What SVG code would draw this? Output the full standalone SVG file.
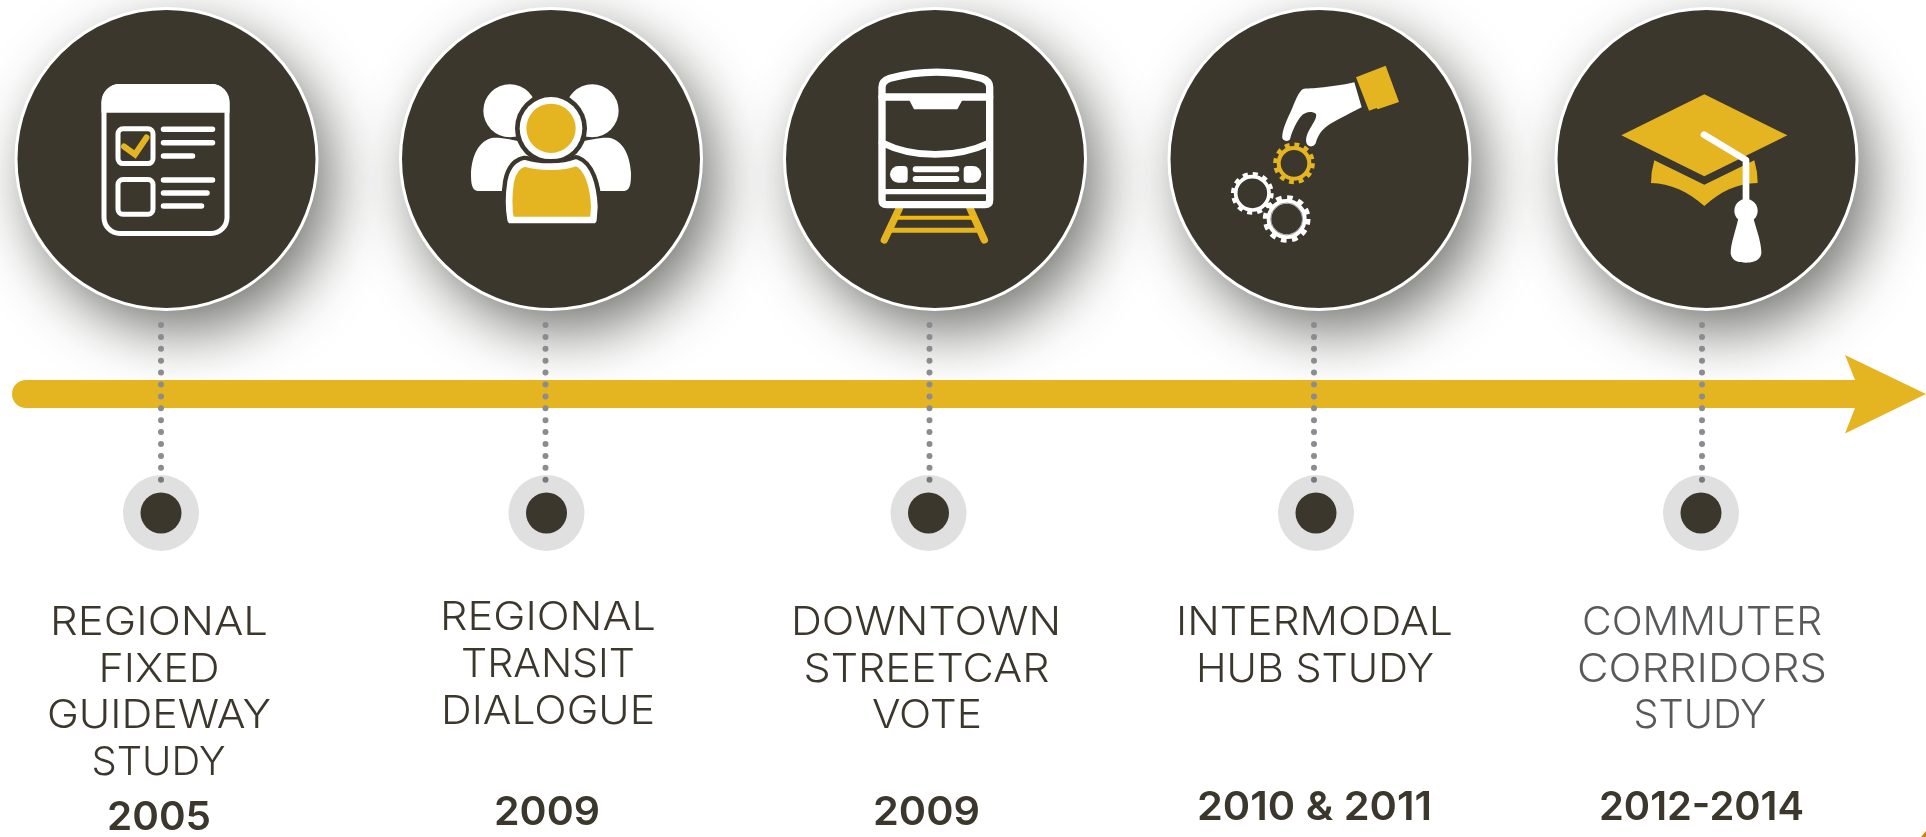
<svg xmlns="http://www.w3.org/2000/svg" width="1926" height="837" viewBox="0 0 1926 837">
<style>
text{font-family:"Inter","Open Sans","Liberation Sans",sans-serif;text-anchor:middle}
.t{font-size:39.5px;font-weight:300;fill:#3b372c}
.g{fill:#58595b}
.y{font-size:40px;font-weight:600;fill:#3b372c}
.disc{fill:#3b372c;stroke:#fff;stroke-width:3}
.shadow{fill:#1a1a14;fill-opacity:.62;filter:url(#sh)}
.w{fill:#fff}.au{fill:#e5b521}
.ws{fill:none;stroke:#fff;stroke-linecap:round;stroke-linejoin:round}
.as{fill:none;stroke:#e5b521;stroke-linecap:round}
.dot{fill:none;stroke:#8b8b90;stroke-width:6;stroke-linecap:round;stroke-dasharray:0 11.9}
.ring{fill:#e0e0e0}.core{fill:#3b372c}
.teeth{fill:none;stroke-dasharray:5 5}
</style>
<defs>
<filter id="sh" x="-50%" y="-50%" width="200%" height="200%" color-interpolation-filters="sRGB">
<feGaussianBlur stdDeviation="30"/>
</filter>
</defs>
<rect width="1926" height="837" fill="#fff"/>

<g id="node-2005">
<circle class="shadow" cx="181" cy="181" r="150"/>
<circle class="disc" cx="166.500" cy="159" r="150.500"/>
<rect class="ws" x="104" y="86.500" width="123" height="147" rx="16" stroke-width="5"/>
<path class="w" d="M101.500 112.700V102A18 18 0 0 1 119.500 84H211.500A18 18 0 0 1 229.500 102V112.700Z"/>
<rect class="ws" x="118" y="128.800" width="35" height="34.800" rx="5" stroke-width="5"/>
<rect class="ws" x="118" y="179.500" width="35" height="34.800" rx="5" stroke-width="5"/>
<path class="ws" stroke-width="5.500" d="M163.500 129.300H212.500M163.500 142.700H212.500M163.500 156H192.500M163.500 180H212.500M163.500 193H207M163.500 206H201.500"/>
<path class="as" stroke-width="6" stroke-linecap="butt" d="M124 146.500L135 154.500L146.500 137.500"/>
</g>

<g id="node-dialogue">
<circle class="shadow" cx="565.500" cy="181" r="150"/>
<circle class="disc" cx="551" cy="159" r="150.500"/>
<g transform="translate(390 0) scale(.33333)">
<circle class="w" cx="359.500" cy="332" r="79.500"/>
<circle class="w" cx="606.500" cy="332" r="79.500"/>
<path class="w" d="M262 573C245 570 243 550 243 520C245 470 265 420 310 413C340 412 370 420 420 430L430 573Z"/>
<path class="w" d="M704 573C721 570 723 550 723 520C721 470 701 420 656 413C626 412 596 420 546 430L536 573Z"/>
<circle fill="#3b372c" cx="483" cy="385" r="108"/>
<circle class="w" cx="483" cy="385" r="94"/>
<circle class="au" cx="483" cy="385" r="74"/>
<path fill="#3b372c" stroke="#3b372c" stroke-width="46" stroke-linejoin="round" d="M362 660C355 620 355 590 362 545C368 515 382 495 405 490C440 502 520 505 558 488C592 500 610 555 613 620L610 660Z"/>
<path class="au" stroke="#fff" stroke-width="20" stroke-linejoin="round" d="M362 660C355 620 355 590 362 545C368 515 382 495 405 490C440 502 520 505 558 488C592 500 610 555 613 620L610 660Z"/>
</g>
</g>

<g id="node-streetcar">
<circle class="shadow" cx="949.500" cy="181" r="150"/>
<circle class="disc" cx="935" cy="159" r="150.500"/>
<g transform="translate(780 0) scale(.33333)">
<path class="as" stroke-width="22" d="M358 625L313 720M570 625L613 720"/>
<path class="as" style="stroke:#f2b90f;stroke-linecap:butt" stroke-width="12" d="M348 653H585"/>
<path class="as" stroke-width="15" style="stroke-linecap:butt" d="M330 691H600"/>
<path class="ws" stroke-width="22" d="M306 262C306 250 315 240 330 235C420 210 520 210 605 235C620 240 629 250 629 262V600Q629 614 615 614H320Q306 614 306 600Z"/>
<path class="ws" stroke-width="22" d="M306 291H629"/>
<polygon class="w" points="385,295 402,328 532,328 550,295"/>
<path class="ws" stroke-width="20" d="M306 428C400 475 530 475 629 428"/>
<path class="w" d="M355 498H372Q383 498 383 510V536Q383 548 372 548H355A25 25 0 0 1 355 498Z"/>
<path class="w" d="M579 498H562Q551 498 551 510V536Q551 548 562 548H579A25 25 0 0 0 579 498Z"/>
<path class="ws" stroke-width="18" d="M407 508H529M407 537H529"/>
<path class="ws" stroke-width="16" style="stroke-linecap:butt" d="M306 575H629"/>
</g>
</g>

<g id="node-hub">
<circle class="shadow" cx="1334" cy="181" r="150"/>
<circle class="disc" cx="1319.500" cy="159" r="150.500"/>
<g transform="translate(1160 0) scale(.33333)">
<polygon class="au" points="588,232 677,197 717,306 653,328 650,324 627,332"/>
<path class="w" d="M583 247L605 322C570 340 540 355 510 372C490 385 475 400 467 430C463 440 450 442 443 435C435 425 438 410 445 395C455 375 472 355 468 342C455 332 435 335 422 350C410 365 395 395 390 418C385 425 372 425 367 415C365 400 375 370 390 340C400 320 410 285 425 270C430 265 440 266 460 265C500 262 550 255 583 247Z"/>
<circle cx="402" cy="490" r="46" fill="none" stroke="#e5b521" stroke-width="12"/>
<circle class="teeth" cx="402" cy="490" r="55" stroke="#e5b521" stroke-width="15" pathLength="120"/>
<circle cx="277" cy="580" r="50" fill="none" stroke="#fff" stroke-width="11"/>
<circle class="teeth" cx="277" cy="580" r="57" stroke="#fff" stroke-width="14" pathLength="120"/>
<circle cx="380" cy="657" r="53" fill="none" stroke="#fff" stroke-width="14"/>
<circle cx="380" cy="657" r="48" fill="none" stroke="#3b372c" stroke-width="1.500"/>
<circle class="teeth" cx="380" cy="657" r="63" stroke="#fff" stroke-width="17" pathLength="120"/>
</g>
</g>

<g id="node-commuter">
<circle class="shadow" cx="1721" cy="181" r="150"/>
<circle class="disc" cx="1706.500" cy="159" r="150.500"/>
<g transform="translate(1550 0) scale(.33333)">
<polygon class="au" points="463,283 712,406 463,529 214,406"/>
<path class="au" d="M313 481L463 554L613 481Q623 515 623 549C560 550 510 575 463 618C416 575 360 550 303 549Q303 515 313 481Z"/>
<path class="ws" stroke-width="20" d="M462 404L588 480V610"/>
<circle class="w" cx="588" cy="632" r="35"/>
<path class="w" d="M565 655H610C620 690 635 730 634 760C632 785 600 788 588 788C570 788 545 785 542 760C542 730 558 690 565 655Z"/>
</g>
</g>

<g id="connectors">
<path class="au" d="M26 380H1855L1845 355L1926 394L1845 433.500L1855 408H26A14 14 0 0 1 26 380Z"/>
<path class="dot" d="M161 325V480"/>
<path class="dot" d="M545.500 325V480"/>
<path class="dot" d="M929.500 325V480"/>
<path class="dot" d="M1314 325V480"/>
<path class="dot" d="M1702 325V480"/>
</g>

<g id="marker-1"><circle class="ring" cx="161" cy="513" r="38" style="mix-blend-mode:multiply"/><circle class="core" cx="161" cy="513" r="20.500"/></g>
<g id="marker-2"><circle class="ring" cx="546.500" cy="513" r="38" style="mix-blend-mode:multiply"/><circle class="core" cx="546.500" cy="513" r="20.500"/></g>
<g id="marker-3"><circle class="ring" cx="928.500" cy="513" r="38" style="mix-blend-mode:multiply"/><circle class="core" cx="928.500" cy="513" r="20.500"/></g>
<g id="marker-4"><circle class="ring" cx="1316" cy="513" r="38" style="mix-blend-mode:multiply"/><circle class="core" cx="1316" cy="513" r="20.500"/></g>
<g id="marker-5"><circle class="ring" cx="1701" cy="513" r="38" style="mix-blend-mode:multiply"/><circle class="core" cx="1701" cy="513" r="20.500"/></g>

<g id="label-1">
<text class="t" x="159" y="635" textLength="218" lengthAdjust="spacingAndGlyphs">REGIONAL</text>
<text class="t" x="159" y="681.500" textLength="121" lengthAdjust="spacingAndGlyphs">FIXED</text>
<text class="t" x="159" y="728" textLength="224" lengthAdjust="spacingAndGlyphs">GUIDEWAY</text>
<text class="t" x="158.500" y="775" textLength="134" lengthAdjust="spacingAndGlyphs">STUDY</text>
<text class="y" x="159" y="830" textLength="104" lengthAdjust="spacingAndGlyphs">2005</text>
</g>
<g id="label-2">
<text class="t" x="548" y="630" textLength="216" lengthAdjust="spacingAndGlyphs">REGIONAL</text>
<text class="t" x="548" y="677" textLength="174" lengthAdjust="spacingAndGlyphs">TRANSIT</text>
<text class="t" x="548" y="723.500" textLength="214" lengthAdjust="spacingAndGlyphs">DIALOGUE</text>
<text class="y" x="547" y="825" textLength="106" lengthAdjust="spacingAndGlyphs">2009</text>
</g>
<g id="label-3">
<text class="t" x="926" y="635" textLength="270" lengthAdjust="spacingAndGlyphs">DOWNTOWN</text>
<text class="t" x="926.500" y="681.500" textLength="246" lengthAdjust="spacingAndGlyphs">STREETCAR</text>
<text class="t" x="927" y="728" textLength="110" lengthAdjust="spacingAndGlyphs">VOTE</text>
<text class="y" x="926.500" y="825" textLength="107" lengthAdjust="spacingAndGlyphs">2009</text>
</g>
<g id="label-4">
<text class="t" x="1314.500" y="635" textLength="277" lengthAdjust="spacingAndGlyphs">INTERMODAL</text>
<text class="t" x="1315" y="681.500" textLength="238" lengthAdjust="spacingAndGlyphs">HUB STUDY</text>
<text class="y" x="1314.500" y="820" textLength="235" lengthAdjust="spacingAndGlyphs">2010 &amp; 2011</text>
</g>
<g id="label-5">
<text class="t g" x="1702" y="635" textLength="240" lengthAdjust="spacingAndGlyphs">COMMUTER</text>
<text class="t g" x="1702" y="681.500" textLength="250" lengthAdjust="spacingAndGlyphs">CORRIDORS</text>
<text class="t g" x="1700" y="728" textLength="133" lengthAdjust="spacingAndGlyphs">STUDY</text>
<text class="y" x="1701.500" y="820" textLength="205" lengthAdjust="spacingAndGlyphs">2012-2014</text>
</g>
<polygon points="1926,831 1926,837 1921,837" fill="#c8860d"/>
</svg>
